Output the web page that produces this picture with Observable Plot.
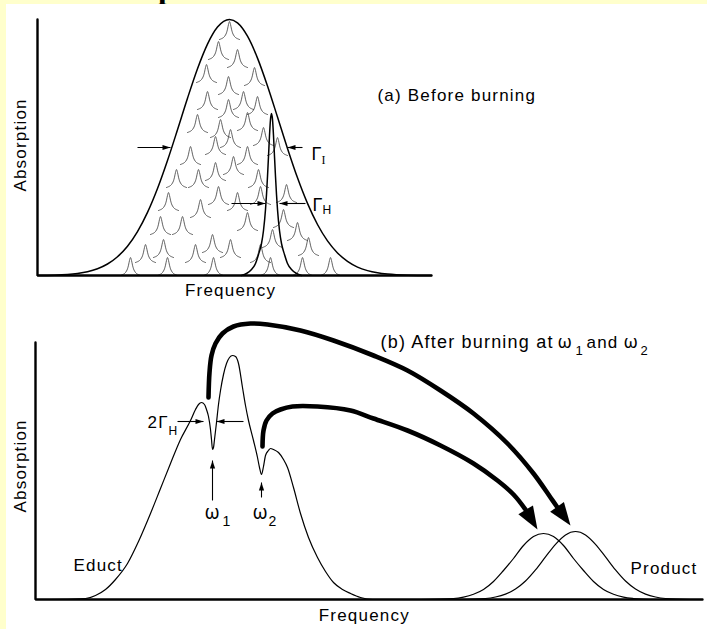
<!DOCTYPE html>
<html>
<head>
<meta charset="utf-8">
<script src="https://cdn.jsdelivr.net/npm/d3@7"></script>
<script src="https://cdn.jsdelivr.net/npm/@observablehq/plot@0.6"></script>
<style>
  html, body { margin: 0; padding: 0; background: #FFFFCC; width: 707px; height: 629px; overflow: hidden; }
  #page { position: relative; width: 707px; height: 629px; }
  #cut { position: absolute; left: 0; top: 0; }
  #sheet { position: absolute; left: 6px; top: 4px; width: 701px; height: 625px; background: #ffffff; }
  #a, #b { position: absolute; left: 0; }
  #a { top: 0; }
  #b { top: 300px; }
  #a text, #b text { letter-spacing: 1.2px; }
</style>
</head>
<body>
<div id="page">
  <svg id="cut" width="707" height="10"><text x="158" y="-2.5" font-family="Liberation Serif, serif" font-weight="bold" font-size="32">p</text></svg>
  <div id="sheet"></div>
  <div id="a"></div>
  <div id="b"></div>
</div>
<script>
// ---------------- Panel (a): before burning ----------------
const freqA = [0, 394];
const absA = [0, 256];
// inhomogeneous envelope
const envelopeFreq = [0, 30, 40, 50, 60, 70, 80, 90, 100, 110, 120, 130, 140, 150, 160, 170, 180, 192, 200, 210, 220, 230, 240, 250, 260, 270, 280, 290, 300, 310, 320, 330, 340, 350, 370, 394];
const envelopeAbs  = [0, 1.1, 2.1, 3.8, 6.8, 11.5, 18.8, 29.3, 43.9, 63.1, 87, 115, 145.8, 177.3, 206.8, 231.4, 248.4, 256, 252.6, 239.3, 217.4, 189.5, 158.5, 127.1, 97.7, 72.1, 51, 34.6, 22.6, 14.1, 8.4, 4.9, 2.7, 1.4, 0.3, 0];
// single homogeneous line
const homLineFreq = [204, 209, 214, 218, 221, 224, 226, 228, 229, 230, 231, 232, 233, 234, 235, 236, 237, 238, 239, 240, 242, 244, 247, 250, 254, 259, 264];
const homLineAbs  = [0, 2, 6, 12, 21, 32, 45, 66, 81, 99, 119, 140, 156, 162, 156, 140, 119, 99, 81, 66, 45, 32, 21, 12, 6, 2, 0];
// small homogeneous packets: centre frequency and baseline level
const packetFreq = [192, 181, 200, 169, 217, 191, 170, 206, 191, 220, 160, 210, 183, 193, 178, 226, 153, 210, 196, 178, 139, 161, 221, 249, 181, 223, 131, 200, 163, 246, 210, 123, 145, 260, 235, 175, 271, 126, 193, 108, 158, 223, 93, 130, 176, 233, 265, 293, 240];
const packetBase = [236, 216, 208, 193, 190, 181, 166, 166, 158, 161, 143, 145, 138, 128, 121, 130, 111, 111, 101, 95, 88, 88, 88, 73, 71, 71, 65, 65, 58, 48, 45, 41, 41, 35, 28, 23, 20, 18, 18, 13, 13, 13, 0, 0, 0, 0, 0, 0, 120];
// profile of one small packet (offset, height)
const packetShapeDf = [-10, -8, -6, -4, -3, -2, -1, 0, 1, 2, 3, 4, 6, 8, 10];
const packetShapeDa = [0, 0.8, 2, 4.5, 6.7, 10.3, 15.1, 18, 15.1, 10.3, 6.7, 4.5, 2, 0.8, 0];
// width arrows
const arrowsAx1 = [100, 265, 194, 268];
const arrowsAy1 = [128, 128, 72, 72];
const arrowsAx2 = [133, 250, 228, 242];
const arrowsAy2 = [128, 128, 72, 72];
// labels
const labelsAText = ["(a) Before burning", "Γ", "Γ"];
const labelsAx    = [340, 274, 275];
const labelsAy    = [175, 116, 65];
const subsAText = ["I", "H"];
const subsAx    = [284, 285];
const subsAy    = [112, 62];

// ---------------- Panel (b): after burning ----------------
const freqB = [0, 667];
const absB = [0, 257];
const eductFreq = [0, 15, 50, 60, 70, 80, 92, 103, 115, 125, 135, 145, 155, 160, 163, 166, 169, 171, 173, 175, 176, 177, 178, 179, 181, 183, 185, 188, 191, 194, 197, 200, 203, 207, 210, 213, 218, 222, 224, 226, 228, 230, 233, 235, 238, 243, 248, 252, 258, 265, 273, 282, 290, 298, 307, 315, 325, 337, 365];
const eductAbs  = [0, 0, 1, 4, 10, 20, 36, 58, 86, 111, 136, 160, 179, 190, 195, 197, 195, 190, 183, 170, 160, 150, 152, 160, 177, 195, 209, 225, 236, 242, 244, 243, 236, 212, 194, 179, 159, 142, 132, 125, 133, 144, 149, 151, 150, 147, 140, 132, 112, 86, 62, 42, 28, 17, 10, 6, 2, 0, 0];
const product1Freq = [385, 418, 428, 438, 448, 458, 468, 478, 488, 498, 508, 518, 528, 538, 548, 558, 568, 578, 588, 598, 615];
const product1Abs  = [0, 1, 2.4, 5.2, 10, 18, 29, 41, 54, 63, 66, 63, 54, 41, 29, 18, 10, 5.2, 2.4, 1, 0];
const product2Freq = [425, 450, 460, 470, 480, 490, 500, 510, 520, 530, 540, 550, 560, 570, 580, 590, 600, 610, 620, 630, 655];
const product2Abs  = [0, 1, 2.5, 5.4, 10.5, 18.5, 29.6, 42.6, 55.2, 64.6, 68, 64.6, 55.2, 42.6, 29.6, 18.5, 10.5, 5.4, 2.5, 1, 0];
// transfer arrows (shaft path and tip)
const transfer1Freq = [173, 174, 176, 180, 187, 198, 215, 232, 265, 298, 338, 372, 405, 438, 472, 498, 515, 522];
const transfer1Abs  = [202, 227, 244, 256, 266, 273, 276, 275, 269, 259, 244, 229, 209, 186, 156, 126, 102, 92];
const transfer1Tip  = [535, 74];
const transfer2Freq = [227, 228, 231, 237, 245, 257, 282, 315, 338, 372, 405, 438, 462, 478, 490];
const transfer2Abs  = [153, 169, 179, 186, 190, 193, 193, 189, 181, 169, 154, 136, 119, 105, 90];
const transfer2Tip  = [502, 70];
// hole arrows
const arrowsBx1 = [142, 208, 177, 226];
const arrowsBy1 = [178, 178, 99, 102];
const arrowsBx2 = [168, 181, 177, 226];
const arrowsBy2 = [178, 178, 139, 117];
// labels
const titleBText = ["(b) After burning at", "and"];
const titleBx    = [345, 551];
const titleBy    = [252, 252];
const omegaText = ["ω", "ω", "ω", "ω"];
const omegaX    = [522, 588, 169, 217];
const omegaY    = [252, 252, 81, 81];
const labelsBText = ["2Γ", "Educt", "Product"];
const labelsBx    = [112, 38, 595];
const labelsBy    = [172, 29, 26];
const subsBText = ["1", "2", "H", "1", "2"];
const subsBx    = [540, 605, 133, 187, 233];
const subsBy    = [245, 245, 165, 74, 74];

// ---------------- helpers ----------------
const FONT = "Liberation Sans, Arial, Helvetica, sans-serif";
const GREEK = "Noto Sans, sans-serif";
const zip = (xs, ys) => xs.map((x, i) => ({x, y: ys[i]}));
const headShape = (len, half) => ({
  draw(ctx) { ctx.moveTo(0, 0); ctx.lineTo(half, len); ctx.lineTo(-half, len); ctx.closePath(); }
});
const smallHead = headShape(8, 2.6);
const bigHead = headShape(23, 8.5);

function thinArrows(x1s, y1s, x2s, y2s) {
  const d = x1s.map((x1, i) => {
    const x2 = x2s[i], y1 = y1s[i], y2 = y2s[i];
    return {x1, y1, x2, y2, angle: Math.atan2(x2 - x1, y2 - y1) * 180 / Math.PI};
  });
  return [
    Plot.link(d, {x1: "x1", y1: "y1", x2: "x2", y2: "y2", stroke: "black", strokeWidth: 1.1}),
    Plot.dot(d, {x: "x2", y: "y2", rotate: "angle", symbol: smallHead, r: 1, fill: "black", stroke: "none"})
  ];
}
function thickArrow(fs, as, tip) {
  const pts = zip(fs, as);
  const last = pts[pts.length - 1];
  const angle = Math.atan2(tip[0] - last.x, tip[1] - last.y) * 180 / Math.PI;
  return [
    Plot.line(pts, {x: "x", y: "y", curve: "catmull-rom", stroke: "black", strokeWidth: 4.6}),
    Plot.dot([{x: tip[0], y: tip[1], angle}], {x: "x", y: "y", rotate: "angle", symbol: bigHead, r: 1, fill: "black", stroke: "none"})
  ];
}
function texts(ts, xs, ys, size, opts = {}) {
  return Plot.text(ts.map((t, i) => ({t, x: xs[i], y: ys[i]})), {
    x: "x", y: "y", text: "t", fontSize: size, fontFamily: FONT, textAnchor: "start",
    lineAnchor: "bottom", fill: "black", ...opts
  });
}

// packets as one long table
const packets = [];
packetFreq.forEach((c, i) => {
  packetShapeDf.forEach((df, j) => packets.push({id: i, x: c + df, y: packetBase[i] + packetShapeDa[j]}));
});

const plotA = Plot.plot({
  width: 707, height: 300,
  marginLeft: 37, marginRight: 276, marginTop: 19, marginBottom: 25,
  x: {domain: freqA, axis: null},
  y: {domain: absA, axis: null},
  style: {background: "transparent", overflow: "visible"},
  marks: [
    Plot.line(packets, {x: "x", y: "y", z: "id", stroke: "#3a3a3a", strokeWidth: 0.8, curve: "monotone-x"}),
    Plot.line(zip(envelopeFreq, envelopeAbs), {x: "x", y: "y", stroke: "black", strokeWidth: 1.5, curve: "monotone-x"}),
    Plot.line(zip(homLineFreq, homLineAbs), {x: "x", y: "y", stroke: "black", strokeWidth: 1.5, curve: "monotone-x"}),
    Plot.line([{x: freqA[0], y: absA[1]}, {x: freqA[0], y: absA[0]}, {x: freqA[1], y: absA[0]}],
      {x: "x", y: "y", stroke: "black", strokeWidth: 2.4, strokeLinejoin: "miter"}),
    ...thinArrows(arrowsAx1, arrowsAy1, arrowsAx2, arrowsAy2),
    texts(labelsAText.slice(0, 1), labelsAx.slice(0, 1), labelsAy.slice(0, 1), 17),
    texts(labelsAText.slice(1), labelsAx.slice(1), labelsAy.slice(1), 18),
    texts(subsAText.slice(0, 1), subsAx.slice(0, 1), subsAy.slice(0, 1), 12, {fontFamily: "Liberation Serif, serif"}),
    texts(subsAText.slice(1), subsAx.slice(1), subsAy.slice(1), 12),
    Plot.text(["Frequency"], {x: (freqA[0] + freqA[1]) * 0.49, y: -20, text: d => d, fontSize: 17, fontFamily: FONT, lineAnchor: "bottom"}),
    Plot.text(["Absorption"], {x: -17, y: (absA[1]) * 0.51, text: d => d, fontSize: 17, fontFamily: FONT, rotate: -90})
  ]
});
document.getElementById("a").append(plotA);

const plotB = Plot.plot({
  width: 707, height: 329,
  marginLeft: 35, marginRight: 5, marginTop: 42, marginBottom: 30,
  x: {domain: freqB, axis: null},
  y: {domain: absB, axis: null},
  style: {background: "transparent", overflow: "visible"},
  marks: [
    Plot.line(zip(eductFreq, eductAbs), {x: "x", y: "y", stroke: "black", strokeWidth: 1.2, curve: "monotone-x"}),
    Plot.line(zip(product1Freq, product1Abs), {x: "x", y: "y", stroke: "black", strokeWidth: 1.2, curve: "monotone-x"}),
    Plot.line(zip(product2Freq, product2Abs), {x: "x", y: "y", stroke: "black", strokeWidth: 1.2, curve: "monotone-x"}),
    Plot.line([{x: freqB[0], y: absB[1]}, {x: freqB[0], y: absB[0]}, {x: freqB[1], y: absB[0]}],
      {x: "x", y: "y", stroke: "black", strokeWidth: 2.4, strokeLinejoin: "miter"}),
    ...thickArrow(transfer1Freq, transfer1Abs, transfer1Tip),
    ...thickArrow(transfer2Freq, transfer2Abs, transfer2Tip),
    ...thinArrows(arrowsBx1, arrowsBy1, arrowsBx2, arrowsBy2),
    texts(titleBText.slice(0, 1), titleBx.slice(0, 1), titleBy.slice(0, 1), 18),
    texts(titleBText.slice(1), titleBx.slice(1), titleBy.slice(1), 17),
    texts(omegaText.slice(0, 2), omegaX.slice(0, 2), omegaY.slice(0, 2), 18, {fontFamily: GREEK}),
    texts(omegaText.slice(2), omegaX.slice(2), omegaY.slice(2), 19, {fontFamily: GREEK}),
    texts(labelsBText, labelsBx, labelsBy, 17),
    texts(subsBText.slice(0, 2), subsBx.slice(0, 2), subsBy.slice(0, 2), 13),
    texts(subsBText.slice(2, 3), subsBx.slice(2, 3), subsBy.slice(2, 3), 12),
    texts(subsBText.slice(3), subsBx.slice(3), subsBy.slice(3), 14),
    Plot.text(["Frequency"], {x: (freqB[0] + freqB[1]) * 0.493, y: -21, text: d => d, fontSize: 17, fontFamily: FONT, lineAnchor: "bottom"}),
    Plot.text(["Absorption"], {x: -15, y: absB[1] * 0.52, text: d => d, fontSize: 17, fontFamily: FONT, rotate: -90})
  ]
});
document.getElementById("b").append(plotB);
</script>
</body>
</html>
